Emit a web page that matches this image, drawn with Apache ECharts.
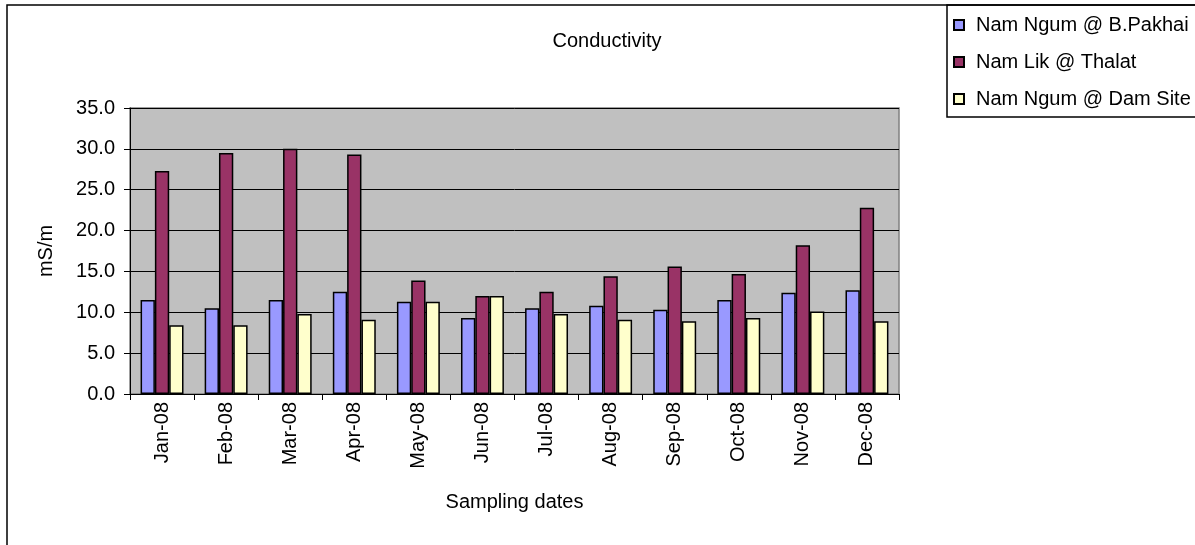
<!DOCTYPE html>
<html>
<head>
<meta charset="utf-8">
<script src="https://cdn.jsdelivr.net/npm/echarts@6/dist/echarts.min.js"></script>
<style>
  html, body { margin: 0; padding: 0; background: #fff; }
  #chart { width: 1195px; height: 545px; }
</style>
</head>
<body>
<div id="chart"></div>
<script>
// Monthly conductivity (mS/m) at three sampling stations, 2008
const months = ['Jan-08', 'Feb-08', 'Mar-08', 'Apr-08', 'May-08', 'Jun-08',
                'Jul-08', 'Aug-08', 'Sep-08', 'Oct-08', 'Nov-08', 'Dec-08'];
const namNgumPakhai = [11.5, 10.5, 11.5, 12.5, 11.3, 9.3, 10.5, 10.8, 10.3, 11.5, 12.4, 12.7];
const namLikThalat  = [27.3, 29.5, 30.0, 29.3, 13.9, 12.0, 12.5, 14.4, 15.6, 14.7, 18.2, 22.8];
const namNgumDam    = [8.4, 8.4, 9.8, 9.1, 11.3, 12.0, 9.8, 9.1, 8.9, 9.3, 10.1, 8.9];
const seriesNames = ['Nam Ngum @ B.Pakhai', 'Nam Lik @ Thalat', 'Nam Ngum @ Dam Site'];
const seriesColors = ['#9999FF', '#993366', '#FFFFCC'];

const FONT = "'Liberation Sans', Arial, sans-serif";
const chart = echarts.init(document.getElementById('chart'), null, { renderer: 'canvas' });

function barSeries(name, data, color) {
  return {
    name: name,
    type: 'bar',
    data: data,
    barGap: '0%',
    barCategoryGap: '33%',
    itemStyle: { color: color, borderColor: '#000', borderWidth: 1.5 },
    emphasis: { disabled: true }
  };
}

chart.setOption({
  animation: false,
  backgroundColor: '#fff',
  textStyle: { fontFamily: FONT, color: '#000' },
  title: {
    text: 'Conductivity',
    left: 602, top: 26, textAlign: 'center',
    textStyle: { fontFamily: FONT, fontSize: 20, fontWeight: 'normal', color: '#000' }
  },
  legend: {
    orient: 'vertical',
    left: 953, top: 15,
    padding: 0,
    itemWidth: 10, itemHeight: 10,
    itemGap: 17,
    icon: 'rect',
    data: seriesNames,
    selectedMode: false,
    textStyle: { fontFamily: FONT, fontSize: 20, color: '#000', lineHeight: 20, padding: [0, 0, 0, 7] }
  },
  grid: {
    left: 130, top: 108, width: 769, height: 286,
    show: true, backgroundColor: '#C0C0C0', borderColor: '#808080', borderWidth: 1.5
  },
  xAxis: {
    type: 'category',
    data: months,
    name: 'Sampling dates',
    nameLocation: 'middle',
    nameGap: 98,
    nameTextStyle: { fontFamily: FONT, fontSize: 20, color: '#000' },
    axisLine: { lineStyle: { color: '#000', width: 1 } },
    axisTick: { show: true, length: 6, lineStyle: { color: '#000' } },
    axisLabel: { rotate: 90, margin: 8, fontFamily: FONT, fontSize: 20, color: '#000' }
  },
  yAxis: {
    type: 'value',
    min: 0, max: 35, interval: 5,
    name: 'mS/m',
    nameLocation: 'middle',
    nameRotate: 90,
    nameGap: 74,
    nameTextStyle: { fontFamily: FONT, fontSize: 20, color: '#000' },
    axisLine: { show: true, lineStyle: { color: '#000', width: 1 } },
    axisTick: { show: true, length: 6, lineStyle: { color: '#000' } },
    axisLabel: { margin: 15, fontFamily: FONT, fontSize: 20, color: '#000',
                 formatter: v => v.toFixed(1) },
    splitLine: { show: true, lineStyle: { color: '#000', width: 1 } }
  },
  series: [
    barSeries(seriesNames[0], namNgumPakhai, seriesColors[0]),
    barSeries(seriesNames[1], namLikThalat, seriesColors[1]),
    barSeries(seriesNames[2], namNgumDam, seriesColors[2])
  ],
  graphic: [
    { type: 'rect', silent: true, z: -1,
      shape: { x: 7, y: 5, width: 1200, height: 560 },
      style: { fill: null, stroke: '#000', lineWidth: 1.5 } },
    { type: 'rect', silent: true, z: -1,
      shape: { x: 947, y: 5, width: 260, height: 112 },
      style: { fill: null, stroke: '#000', lineWidth: 1.5 } }
  ]
});
</script>
</body>
</html>
